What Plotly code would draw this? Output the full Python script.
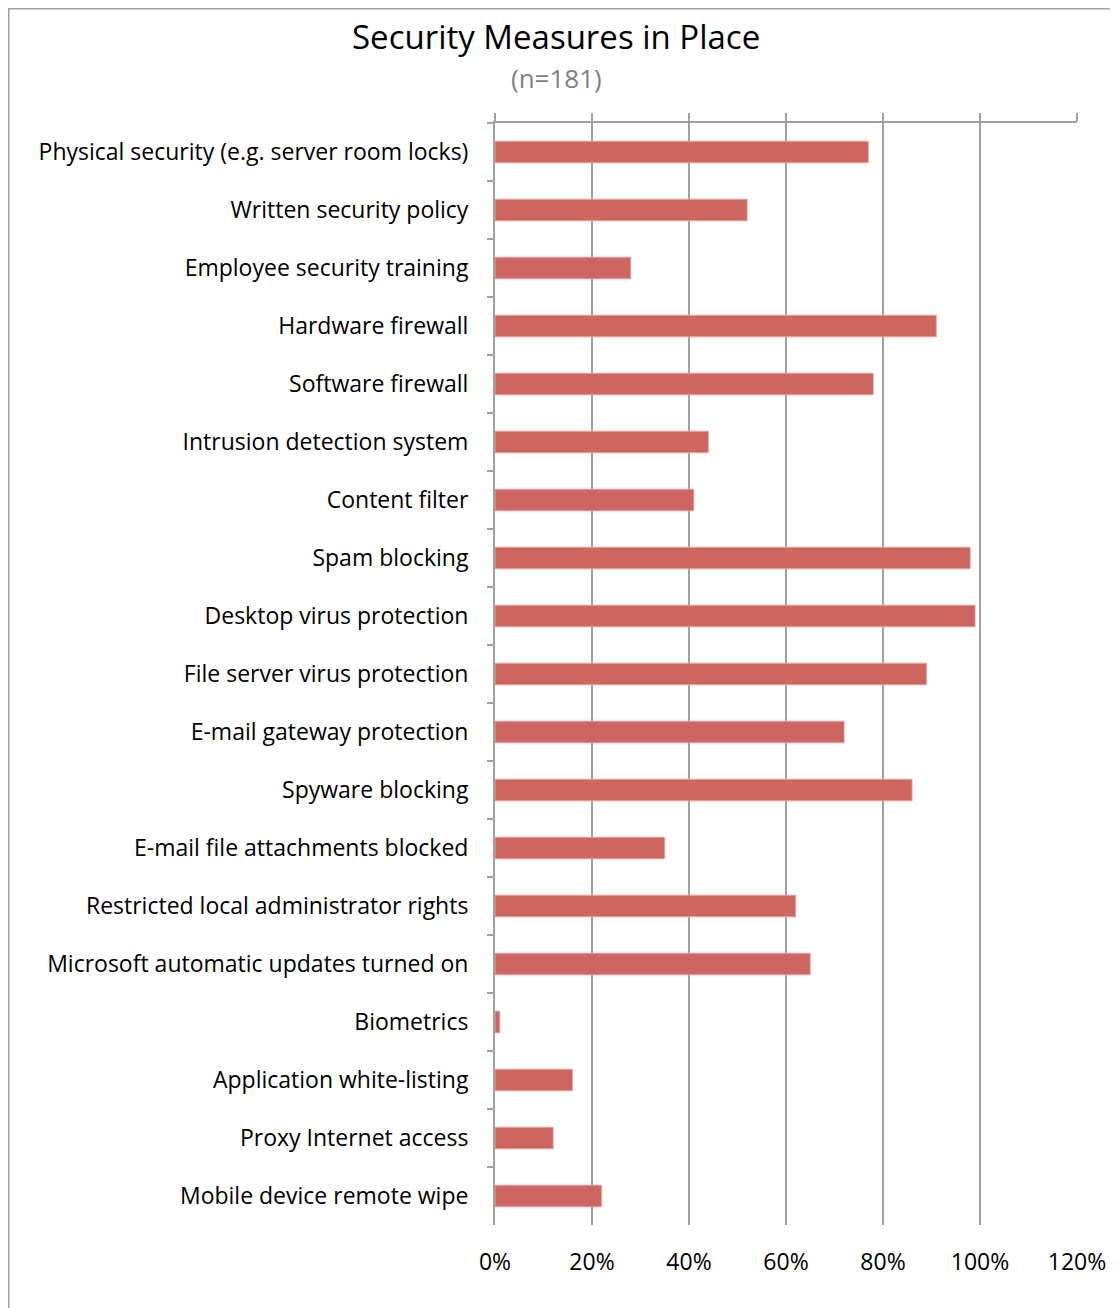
import plotly.graph_objects as go

categories = [
    "Physical security (e.g. server room locks)",
    "Written security policy",
    "Employee security training",
    "Hardware firewall",
    "Software firewall",
    "Intrusion detection system",
    "Content filter",
    "Spam blocking",
    "Desktop virus protection",
    "File server virus protection",
    "E-mail gateway protection",
    "Spyware blocking",
    "E-mail file attachments blocked",
    "Restricted local administrator rights",
    "Microsoft automatic updates turned on",
    "Biometrics",
    "Application white-listing",
    "Proxy Internet access",
    "Mobile device remote wipe",
]
values = [0.77, 0.52, 0.28, 0.91, 0.78, 0.44, 0.41, 0.98, 0.99, 0.89,
          0.72, 0.86, 0.35, 0.62, 0.65, 0.01, 0.16, 0.12, 0.22]
x_ticks = [0, 0.2, 0.4, 0.6, 0.8, 1.0, 1.2]
x_tick_labels = ["0%", "20%", "40%", "60%", "80%", "100%", "120%"]

# page is rendered with an 8px body margin, so work in figure coordinates
OFF = 8
W, H = 1118 - OFF, 1308 - OFF
L, R, T, B = 495 - OFF, 1077 - OFF, 123 - OFF, 1225 - OFF
pw, ph = R - L, B - T

def px(x):
    return (x - OFF - L) / pw

def py(y):
    return (B - (y - OFF)) / ph

FONT = "Open Sans, Carlito, Calibri, sans-serif"
GRID = "#A0A0A0"

fig = go.Figure()
fig.add_trace(go.Bar(
    x=values, y=categories, orientation="h",
    marker=dict(color="#CD6660", line=dict(color="#E9A9A4", width=0.8)),
    hoverinfo="x+y", showlegend=False,
))
# invisible trace to anchor the top axis
fig.add_trace(go.Scatter(x=[0], y=[categories[0]], xaxis="x2", mode="markers",
                         marker=dict(opacity=0), showlegend=False, hoverinfo="skip"))

fig.update_layout(
    width=W, height=H,
    margin=dict(l=L, r=W - R, t=T, b=H - B),
    paper_bgcolor="white", plot_bgcolor="white",
    bargap=0.626,
    font=dict(family=FONT, size=23, color="black"),
    xaxis=dict(
        range=[0, 1.2], tickvals=x_ticks, ticktext=x_tick_labels,
        showgrid=True, gridcolor=GRID, gridwidth=2,
        zeroline=False, showline=False, ticks="",
        ticklabelstandoff=21, tickfont=dict(size=23, family=FONT),
        fixedrange=True,
    ),
    xaxis2=dict(
        range=[0, 1.2], tickvals=x_ticks, overlaying="x", side="top",
        showgrid=False, zeroline=False, showline=True, linecolor=GRID, linewidth=2,
        ticks="outside", ticklen=8, tickwidth=2, tickcolor=GRID,
        showticklabels=False, anchor="y",
    ),
    yaxis=dict(
        categoryorder="array", categoryarray=categories,
        range=[len(categories) - 0.5, -0.5],
        showline=True, linecolor=GRID, linewidth=2,
        ticks="outside", tickson="boundaries", ticklen=6, tickwidth=2, tickcolor=GRID,
        showgrid=False, zeroline=False,
        ticklabelstandoff=20, tickfont=dict(size=23, family=FONT),
    ),
    annotations=[
        dict(text="Security Measures in Place", x=px(556), y=py(37),
             xref="paper", yref="paper", xanchor="center", yanchor="middle",
             showarrow=False, font=dict(size=33, family=FONT, color="black")),
        dict(text="(n=181)", x=px(556), y=py(78),
             xref="paper", yref="paper", xanchor="center", yanchor="middle",
             showarrow=False, font=dict(size=26, family=FONT, color="#7F7F7F")),
    ],
    shapes=[
        dict(type="rect", xref="paper", yref="paper",
             x0=px(OFF + 0.5), x1=px(1140), y0=py(1330), y1=py(OFF + 0.5),
             line=dict(color="#A0A0A0", width=2), fillcolor="rgba(0,0,0,0)",
             layer="below"),
    ],
)

fig.write_html("out.html")
